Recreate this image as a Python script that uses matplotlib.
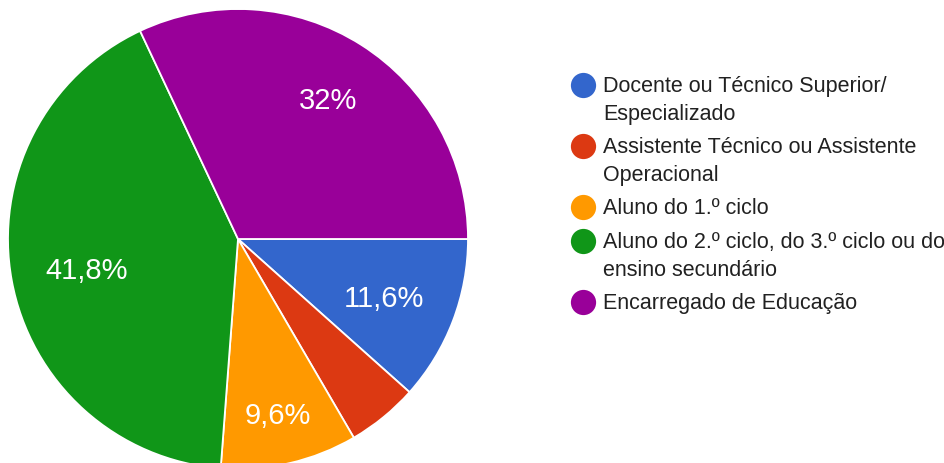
import numpy as np
import matplotlib
matplotlib.use("Agg")
import matplotlib.pyplot as plt

categories = [
    "Docente ou Técnico Superior/\nEspecializado",
    "Assistente Técnico ou Assistente\nOperacional",
    "Aluno do 1.º ciclo",
    "Aluno do 2.º ciclo, do 3.º ciclo ou do\nensino secundário",
    "Encarregado de Educação",
]
values = [11.6, 5.0, 9.6, 41.8, 32.0]
colors = ["#3366CC", "#DC3912", "#FF9900", "#109618", "#990099"]
pct_labels = ["11,6%", "", "9,6%", "41,8%", "32%"]
label_radius = [0.68, 0.7, 0.77, 0.67, 0.73]

plt.rcParams['font.family'] = ['Liberation Sans', 'DejaVu Sans']

W, H = 944, 464
fig = plt.figure(figsize=(W / 100, H / 100), dpi=100)
ax = fig.add_axes([0, 0, 1, 1])

cx, cy, R = 238, H - 240, 230
wedges, _ = ax.pie(values, colors=colors, startangle=0, counterclock=False,
                   center=(cx, cy), radius=R, frame=True,
                   wedgeprops=dict(edgecolor='white', linewidth=1.3))
ax.set_xlim(0, W)
ax.set_ylim(0, H)
ax.set_aspect('equal')
ax.axis('off')

for w, lab, rf in zip(wedges, pct_labels, label_radius):
    if not lab:
        continue
    mid = np.deg2rad((w.theta1 + w.theta2) / 2)
    ax.text(cx + rf * R * np.cos(mid), cy + rf * R * np.sin(mid) - 3, lab,
            ha='center', va='center', color='white', fontsize=21)

# legend
y = 86
line_h = 27
for lab, col in zip(categories, colors):
    n = lab.count("\n") + 1
    ax.scatter([583], [H - y], s=330, color=col, marker='o', linewidths=0)
    ax.text(603, H - y + 10, lab, ha='left', va='top', fontsize=15.5,
            color='#212121', linespacing=1.45)
    y += n * line_h + 7

fig.savefig("out.png", dpi=100)
